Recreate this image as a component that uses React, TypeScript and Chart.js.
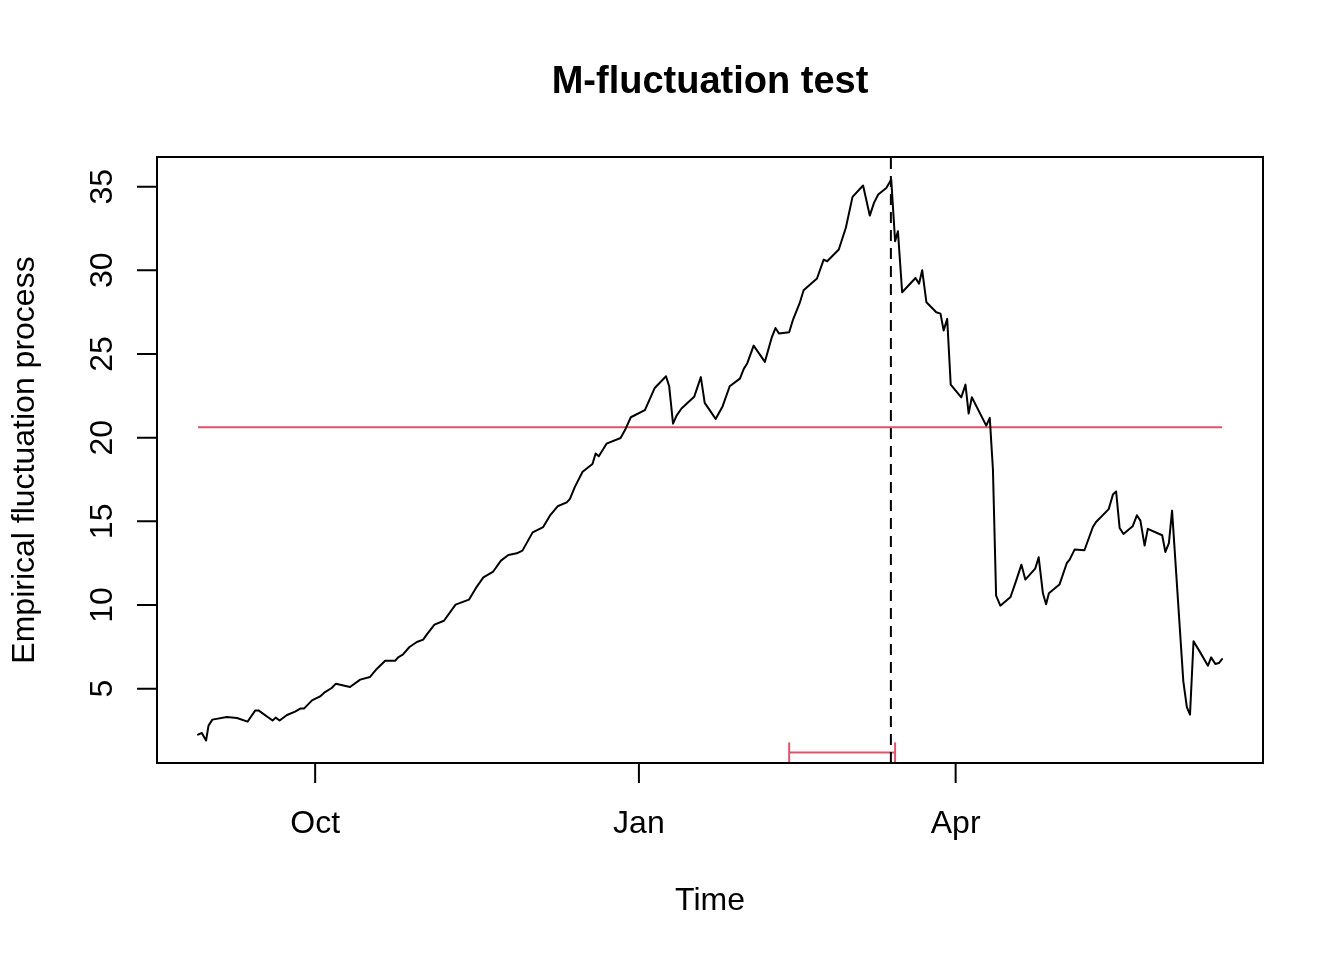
import React, { useEffect, useRef } from "react";
import { Chart, registerables } from "chart.js";

Chart.register(...registerables);

// Time in days relative to 1 October
const days = [
  -33.3, -32.2, -31.0, -30.3, -29.2, -25.1, -22.2, -19.2, -18.3, -17.0,
  -16.1, -12.1, -11.2, -10.1, -8.0, -5.7, -4.1, -3.1, -0.9, 1.4,
  2.8, 4.7, 5.9, 9.9, 12.8, 15.6, 17.5, 19.9, 22.7, 23.7,
  24.9, 26.8, 28.9, 30.7, 31.7, 33.9, 36.6, 39.9, 43.7, 45.7,
  47.8, 50.6, 52.8, 54.9, 57.3, 58.9, 61.8, 64.8, 66.7, 68.9,
  71.5, 72.4, 73.8, 76.0, 78.8, 79.7, 80.6, 82.8, 86.8, 88.2,
  89.7, 93.7, 96.5, 99.7, 100.6, 101.7, 102.7, 104.1, 107.7, 109.6,
  110.7, 113.8, 115.8, 117.8, 120.7, 121.8, 122.8, 124.6, 127.8, 129.7,
  130.8, 131.8, 134.7, 135.8, 137.7, 138.8, 142.6, 144.5, 145.5, 148.8,
  150.8, 152.7, 155.7, 157.6, 158.8, 160.0, 162.3, 163.7, 164.8, 165.6,
  166.8, 170.6, 171.6, 172.5, 173.7, 176.5, 177.7, 178.6, 179.6, 180.6,
  183.6, 184.8, 185.7, 186.6, 190.7, 191.7, 192.6, 193.5, 194.7, 197.6,
  199.2, 200.7, 201.8, 204.6, 205.6, 206.8, 207.7, 208.5, 211.5, 213.6,
  214.4, 215.8, 218.6, 221.0, 221.9, 225.5, 226.7, 227.6, 228.6, 229.7,
  232.3, 233.5, 234.5, 235.7, 236.6, 240.7, 241.6, 242.6, 243.5, 246.7,
  247.7, 248.6, 249.6, 251.5, 253.7, 254.6, 255.8, 256.8, 257.7,
];

const values = [
  2.25, 2.35, 1.9, 2.79, 3.15, 3.31, 3.25, 3.03, 3.31, 3.7,
  3.7, 3.1, 3.27, 3.1, 3.43, 3.63, 3.82, 3.82, 4.3, 4.54,
  4.8, 5.04, 5.3, 5.1, 5.54, 5.7, 6.18, 6.67, 6.67, 6.89,
  7.03, 7.49, 7.79, 7.93, 8.23, 8.83, 9.06, 10.02, 10.32, 11.02,
  11.65, 12.0, 12.65, 12.99, 13.09, 13.25, 14.34, 14.66, 15.34, 15.9,
  16.13, 16.34, 17.06, 17.96, 18.43, 19.05, 18.89, 19.64, 19.98, 20.52,
  21.22, 21.64, 22.97, 23.67, 23.07, 20.84, 21.32, 21.74, 22.44, 23.62,
  22.08, 21.12, 21.88, 23.07, 23.53, 24.11, 24.45, 25.5, 24.53, 25.96,
  26.55, 26.22, 26.3, 27.06, 28.05, 28.81, 29.51, 30.64, 30.54, 31.24,
  32.54, 34.39, 35.07, 33.27, 34.03, 34.53, 34.92, 35.43, 31.74, 32.34,
  28.69, 29.54, 29.2, 30.0, 28.09, 27.49, 27.41, 26.4, 27.1, 23.17,
  22.41, 23.17, 21.44, 22.41, 20.72, 21.18, 18.1, 10.56, 9.96, 10.48,
  11.46, 12.41, 11.52, 12.17, 12.85, 10.7, 10.05, 10.7, 11.22, 12.51,
  12.71, 13.31, 13.27, 14.66, 14.96, 15.73, 16.6, 16.79, 14.6, 14.24,
  14.7, 15.36, 15.04, 13.55, 14.55, 14.17, 13.17, 13.7, 15.64, 5.44,
  3.9, 3.45, 7.83, 7.17, 6.37, 6.87, 6.47, 6.53, 6.77,
];

const xTickValues = [0, 92, 182];
const xTickLabels = ["Oct", "Jan", "Apr"];
const yTickValues = [5, 10, 15, 20, 25, 30, 35];

const boundary = 20.62;
const breakpoint = 163.6;
const ciLower = 134.7;
const ciUpper = 164.8;
const ciLevel = 1.19;
const ciCap = 0.6;

const titleText = "M-fluctuation test";
const xTitle = "Time";
const yTitle = "Empirical fluctuation process";

const FONT = '"Liberation Sans", Arial, Helvetica, sans-serif';
const RED = "#DF536B";

const rAxesPlugin = {
  id: "rAxes",
  afterDraw(chart: any) {
    const ctx = chart.ctx as CanvasRenderingContext2D;
    const { left, right, top, bottom } = chart.chartArea;
    const xs = chart.scales.x;
    const ys = chart.scales.y;
    ctx.save();
    ctx.strokeStyle = "#000";
    ctx.lineWidth = 2;
    ctx.lineCap = "butt";
    ctx.setLineDash([]);
    ctx.strokeRect(left, top, right - left, bottom - top);
    ctx.beginPath();
    xTickValues.forEach((v) => {
      const px = xs.getPixelForValue(v);
      ctx.moveTo(px, bottom);
      ctx.lineTo(px, bottom + 20);
    });
    yTickValues.forEach((v) => {
      const py = ys.getPixelForValue(v);
      ctx.moveTo(left, py);
      ctx.lineTo(left - 20, py);
    });
    ctx.stroke();

    ctx.fillStyle = "#000";
    ctx.font = `32px ${FONT}`;
    ctx.textAlign = "center";
    ctx.textBaseline = "alphabetic";
    xTickLabels.forEach((lab, i) => {
      ctx.fillText(lab, xs.getPixelForValue(xTickValues[i]), bottom + 70);
    });
    yTickValues.forEach((v) => {
      const py = ys.getPixelForValue(v);
      ctx.save();
      ctx.translate(left - 45.5, py);
      ctx.rotate(-Math.PI / 2);
      ctx.fillText(String(v), 0, 0);
      ctx.restore();
    });

    const cx = (left + right) / 2;
    const cy = (top + bottom) / 2;
    ctx.fillText(xTitle, cx, bottom + 147);
    ctx.save();
    ctx.translate(33.5, cy);
    ctx.rotate(-Math.PI / 2);
    ctx.fillText(yTitle, 0, 0);
    ctx.restore();

    ctx.font = `bold 38px ${FONT}`;
    ctx.fillText(titleText, cx, top - 64);
    ctx.restore();
  },
};

export default function App() {
  const ref = useRef<HTMLCanvasElement>(null);

  useEffect(() => {
    if (!ref.current) return;
    const xMinD = Math.min(...days);
    const xMaxD = Math.max(...days);
    const yMinD = Math.min(...values, boundary);
    const yMaxD = Math.max(...values, boundary);
    const xPad = (xMaxD - xMinD) * 0.04;
    const yPad = (yMaxD - yMinD) * 0.04;
    const xMin = xMinD - xPad;
    const xMax = xMaxD + xPad;
    const yMin = yMinD - yPad;
    const yMax = yMaxD + yPad;

    const process = days.map((d, i) => ({ x: d, y: values[i] }));

    const chart = new Chart(ref.current, {
      type: "line",
      data: {
        datasets: [
          {
            label: "process",
            data: process,
            borderColor: "#000",
            borderWidth: 2,
            pointRadius: 0,
            tension: 0,
            borderJoinStyle: "round",
            borderCapStyle: "round",
            fill: false,
          },
          {
            label: "boundary",
            data: [
              { x: xMinD, y: boundary },
              { x: xMaxD, y: boundary },
            ],
            borderColor: RED,
            borderWidth: 2,
            pointRadius: 0,
            fill: false,
          },
          {
            label: "breakpoint",
            data: [
              { x: breakpoint, y: yMin },
              { x: breakpoint, y: yMax },
            ],
            borderColor: "#000",
            borderWidth: 2,
            borderDash: [11, 7],
            pointRadius: 0,
            fill: false,
          },
          {
            label: "ci",
            data: [
              { x: ciLower, y: ciLevel },
              { x: ciUpper, y: ciLevel },
            ],
            borderColor: RED,
            borderWidth: 2,
            pointRadius: 0,
            fill: false,
          },
          {
            label: "ciLowerCap",
            data: [
              { x: ciLower, y: ciLevel - ciCap },
              { x: ciLower, y: ciLevel + ciCap },
            ],
            borderColor: RED,
            borderWidth: 2,
            pointRadius: 0,
            fill: false,
          },
          {
            label: "ciUpperCap",
            data: [
              { x: ciUpper, y: ciLevel - ciCap },
              { x: ciUpper, y: ciLevel + ciCap },
            ],
            borderColor: RED,
            borderWidth: 2,
            pointRadius: 0,
            fill: false,
          },
        ],
      },
      options: {
        animation: false,
        responsive: false,
        devicePixelRatio: 1,
        events: [],
        layout: { padding: { left: 157, right: 81, top: 157, bottom: 197 } },
        scales: {
          x: { type: "linear", display: false, min: xMin, max: xMax },
          y: { type: "linear", display: false, min: yMin, max: yMax },
        },
        plugins: {
          legend: { display: false },
          tooltip: { enabled: false },
          title: { display: false },
        },
      },
      plugins: [rAxesPlugin],
    });
    return () => chart.destroy();
  }, []);

  return (
    <div style={{ position: "absolute", left: 0, top: 0, width: 1344, height: 960, background: "#fff" }}>
      <canvas ref={ref} width={1344} height={960} style={{ width: 1344, height: 960, display: "block" }} />
    </div>
  );
}
